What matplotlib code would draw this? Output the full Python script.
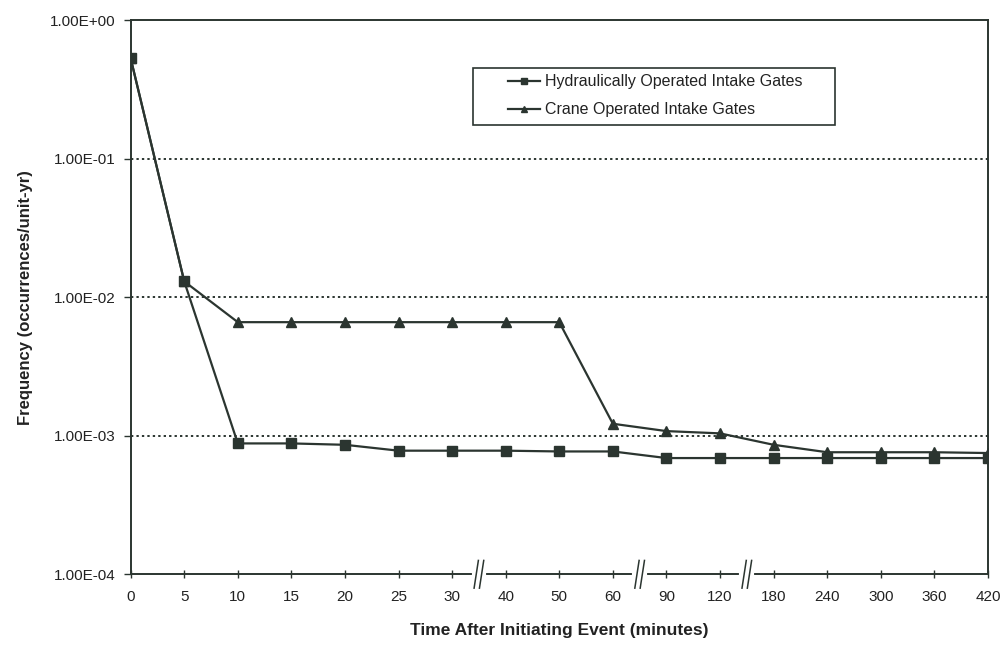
import matplotlib
matplotlib.use('Agg')
import matplotlib.pyplot as plt
import matplotlib.transforms as mtransforms
from matplotlib.patches import Rectangle
from matplotlib.ticker import FixedLocator, FuncFormatter, NullLocator

# ============================================================================
# Data
# ============================================================================
time_labels = ['0', '5', '10', '15', '20', '25', '30', '40', '50', '60',
               '90', '120', '180', '240', '300', '360', '420']
hydraulic = [5.3e-1, 1.3e-2, 8.8e-4, 8.8e-4, 8.6e-4, 7.8e-4, 7.8e-4, 7.8e-4,
             7.7e-4, 7.7e-4, 6.9e-4, 6.9e-4, 6.9e-4, 6.9e-4, 6.9e-4, 6.9e-4,
             6.9e-4]
crane = [5.3e-1, 1.3e-2, 6.6e-3, 6.6e-3, 6.6e-3, 6.6e-3, 6.6e-3, 6.6e-3,
         6.6e-3, 1.22e-3, 1.08e-3, 1.04e-3, 8.6e-4, 7.6e-4, 7.6e-4, 7.6e-4,
         7.5e-4]
# axis breaks sit between these category pairs
breaks_between = [('30', '40'), ('60', '90'), ('120', '180')]

ink = '#2b3530'
plt.rcParams['font.family'] = ['Liberation Sans', 'DejaVu Sans']

fig = plt.figure(figsize=(10.05, 6.46), dpi=100)
ax = fig.add_axes([0.130, 0.111, 0.853, 0.858])

x = list(range(len(time_labels)))
ax.plot(x, hydraulic, color=ink, lw=1.6, marker='s', ms=6.5,
        label='Hydraulically Operated Intake Gates', zorder=4)
ax.plot(x, crane, color=ink, lw=1.6, marker='^', ms=6.5,
        label='Crane Operated Intake Gates', zorder=3)

ax.set_yscale('log')
ax.set_ylim(1e-4, 1e0)
ax.set_xlim(0, len(time_labels) - 1)

ax.yaxis.set_major_locator(FixedLocator([1e-4, 1e-3, 1e-2, 1e-1, 1e0]))
ax.yaxis.set_minor_locator(NullLocator())
ax.yaxis.set_major_formatter(FuncFormatter(lambda v, p: f'{v:.2E}'))
ax.set_xticks(x)
ax.set_xticklabels(time_labels)

for v in [1e-3, 1e-2, 1e-1]:
    ax.axhline(v, color=ink, lw=1.4, ls=(0, (1.2, 1.6)), zorder=1)

for sp in ax.spines.values():
    sp.set_color(ink)
    sp.set_linewidth(1.4)

ax.tick_params(axis='x', direction='inout', length=6, width=1, colors=ink,
               labelsize=11, pad=8, labelcolor='#222222')
ax.tick_params(axis='y', direction='out', length=5, width=1, colors=ink,
               labelsize=11, pad=6, labelcolor='#222222')

ax.set_xlabel('Time After Initiating Event (minutes)', fontsize=12.5,
              fontweight='bold', color='#222222', labelpad=14)
ax.set_ylabel('Frequency (occurrences/unit-yr)', fontsize=12,
              fontweight='bold', color='#222222', labelpad=12)

# axis break symbols on the x axis
trans = mtransforms.blended_transform_factory(ax.transData, ax.transAxes)
for a, b in breaks_between:
    xm = (time_labels.index(a) + time_labels.index(b)) / 2
    ax.plot([xm - 0.1, xm + 0.1], [0.0, 0.0], color='white', lw=3,
            transform=trans, clip_on=False, zorder=5)
    for dx in (-0.05, 0.05):
        ax.plot([xm + dx - 0.04, xm + dx + 0.04], [-0.025, 0.025], color=ink,
                lw=1.1, transform=trans, clip_on=False, zorder=6)

# legend box drawn separately: the original has a wide left margin
ax.add_patch(Rectangle((0.399, 0.8105), 0.4224, 0.1029, transform=ax.transAxes,
                       facecolor='white', edgecolor=ink, lw=1.2, zorder=7))
leg = ax.legend(loc='upper left', bbox_to_anchor=(0.44, 0.902),
                frameon=False, fontsize=11.5, handlelength=2.0,
                borderpad=0, labelspacing=0.8, borderaxespad=0,
                handletextpad=0.35, markerscale=0.7)
leg.set_zorder(8)
for t in leg.get_texts():
    t.set_color('#222222')

fig.savefig('out.png', dpi=100)
